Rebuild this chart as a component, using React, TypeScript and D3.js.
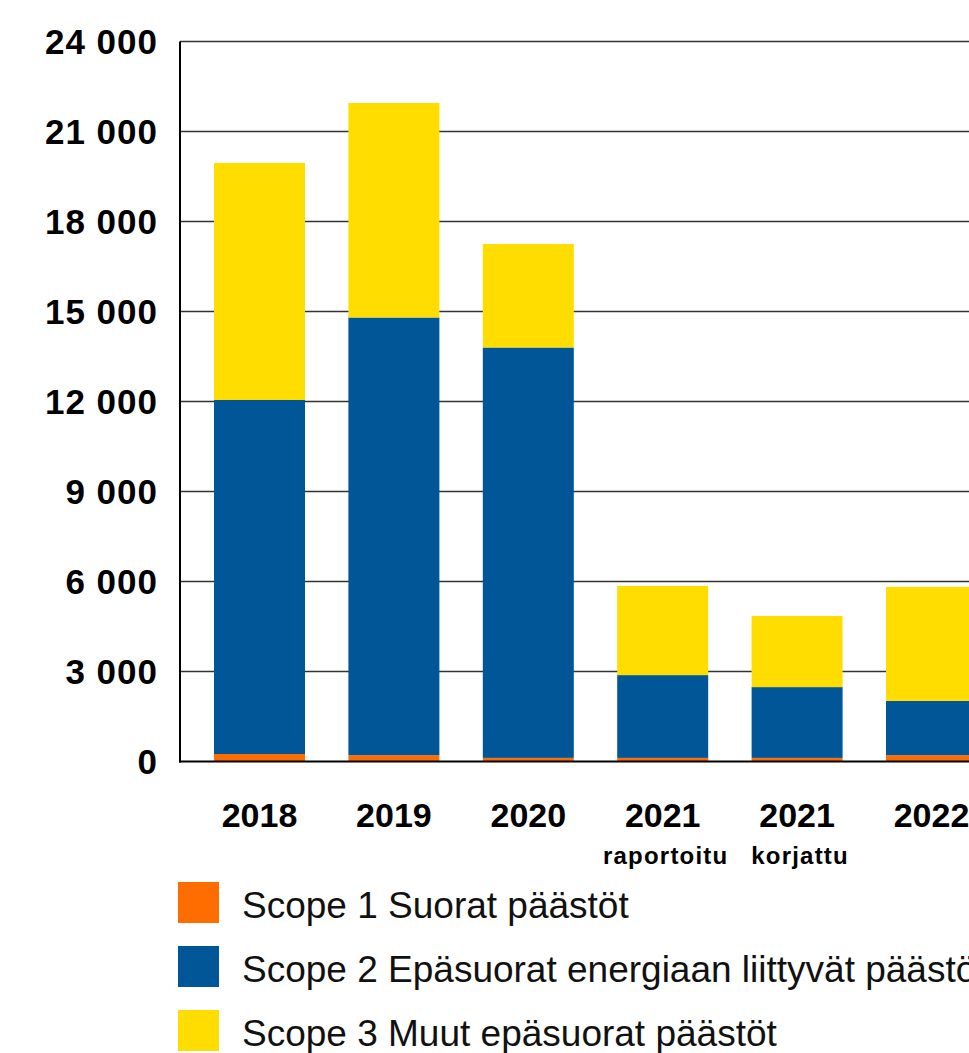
import React from "react";
import * as d3 from "d3";

const categories = ["2018", "2019", "2020", "2021 raportoitu", "2021 korjattu", "2022"];
const yearLabels = ["2018", "2019", "2020", "2021", "2021", "2022"];
const subLabels = ["", "", "", "raportoitu", "korjattu", ""];
const scope1 = [250, 210, 120, 120, 120, 210];
const scope2 = [11800, 14590, 13680, 2760, 2360, 1810];
const scope3 = [7900, 7150, 3450, 2970, 2370, 3800];
const yTicks = [0, 3000, 6000, 9000, 12000, 15000, 18000, 21000, 24000];
const seriesNames = [
  "Scope 1 Suorat päästöt",
  "Scope 2 Epäsuorat energiaan liittyvät päästöt",
  "Scope 3 Muut epäsuorat päästöt",
];
const seriesColors = ["#FF6D00", "#005696", "#FFDD00"];

const W = 969;
const H = 1053;
const FONT = "'Liberation Sans', Arial, Helvetica, sans-serif";

export default function App() {
  React.useEffect(() => {
    document.body.style.margin = "0";
    document.body.style.overflow = "hidden";
  }, []);

  const plotLeft = 180;
  const step = 134.4;
  const pi = 0.323;
  const po = 0.253;
  const x = d3
    .scaleBand<string>()
    .domain(categories)
    .range([plotLeft, plotLeft + step * (categories.length - pi + 2 * po)])
    .paddingInner(pi)
    .paddingOuter(po);
  const y = d3.scaleLinear().domain([0, 24000]).range([761.5, 41.5]);

  const table = categories.map((c, i) => ({ cat: c, s1: scope1[i], s2: scope2[i], s3: scope3[i] }));
  const stack = d3.stack<any>().keys(["s1", "s2", "s3"])(table);

  const fmt = (v: number) => d3.format(",")(v).replace(/,/g, " ");

  return (
    <div style={{ position: "absolute", left: 0, top: 0 }}>
      <svg width={W} height={H} style={{ display: "block" }}>
        <rect x={0} y={0} width={W} height={H} fill="#fff" />
        {/* gridlines */}
        {yTicks.filter((t) => t > 0).map((t) => (
          <line key={t} x1={plotLeft} x2={W} y1={y(t)} y2={y(t)} stroke="#333" strokeWidth={1.3} />
        ))}
        {/* bars */}
        {stack.map((layer, li) => (
          <g key={li} fill={seriesColors[li]}>
            {layer.map((d: any, i: number) => (
              <rect
                key={i}
                x={x(categories[i])}
                width={x.bandwidth()}
                y={y(d[1])}
                height={y(d[0]) - y(d[1])}
              />
            ))}
          </g>
        ))}
        {/* axes */}
        <line x1={plotLeft} x2={plotLeft} y1={y(24000)} y2={y(0) + 1} stroke="#000" strokeWidth={2} />
        <line x1={plotLeft - 1} x2={W} y1={y(0)} y2={y(0)} stroke="#000" strokeWidth={2} />
        {/* y tick labels */}
        {yTicks.map((t) => (
          <text
            key={t}
            x={158}
            y={y(t) + 12.5}
            textAnchor="end"
            fontFamily={FONT}
            fontWeight="bold"
            fontSize={35}
            letterSpacing={1}
            fill="#000"
          >
            {fmt(t)}
          </text>
        ))}
        {/* x labels */}
        {categories.map((c, i) => (
          <g key={c}>
            <text
              x={(x(c) as number) + x.bandwidth() / 2}
              y={827}
              textAnchor="middle"
              fontFamily={FONT}
              fontWeight="bold"
              fontSize={34}
              fill="#000"
            >
              {yearLabels[i]}
            </text>
            {subLabels[i] && (
              <text
                x={(x(c) as number) + x.bandwidth() / 2 + 3}
                y={864}
                textAnchor="middle"
                fontFamily={FONT}
                fontWeight="bold"
                fontSize={24}
                letterSpacing={1.2}
                fill="#000"
              >
                {subLabels[i]}
              </text>
            )}
          </g>
        ))}
        {/* legend */}
        {seriesNames.map((n, i) => (
          <g key={n}>
            <rect x={178} y={882 + i * 64} width={41} height={41} fill={seriesColors[i]} />
            <text x={242} y={918 + i * 64} fontFamily={FONT} fontSize={37} fill="#111">
              {n}
            </text>
          </g>
        ))}
      </svg>
    </div>
  );
}
